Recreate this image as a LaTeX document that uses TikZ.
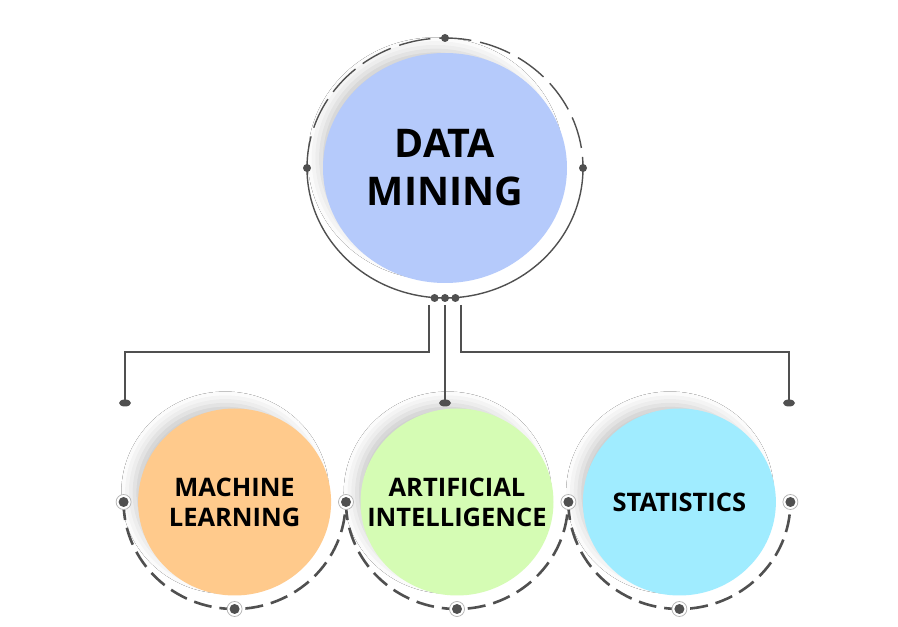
\documentclass[tikz,border=0pt]{standalone}
\usepackage{fontspec}
\setmainfont{Open Sans}
\usetikzlibrary{shapes.geometric, positioning, calc, shadows.blur}
\definecolor{dmblue}{RGB}{181,202,251}
\definecolor{mlorange}{RGB}{255,202,140}
\definecolor{aigreen}{RGB}{213,252,180}
\definecolor{stcyan}{RGB}{160,236,255}
\definecolor{wiregray}{RGB}{80,80,80}
\tikzset{
  % Coloured disc (parameterized by color)
  bubble/.style={
    ellipse, fill=#1, draw=none, inner sep=0pt,
    blur shadow={shadow xshift=-10pt, shadow yshift=10pt, shadow scale=0.94,
    shadow blur radius=14pt, shadow opacity=22}
  },
  bigtitle/.style={align=center, text=black, font=\bfseries\fontsize{39.5}{48}\selectfont},
  title/.style={align=center, text=black, font=\bfseries\fontsize{25.5}{30}\selectfont},
  ringtop/.style={wiregray, line width=1.4pt, dash pattern=on 32pt off 9pt},
  ringbase/.style={wiregray, line width=1.4pt},
  arcdash/.style={wiregray, line width=2.6pt, dash pattern=on 18pt off 8pt},
  wire/.style={wiregray, line width=1.6pt},
  knob/.style={circle, fill=wiregray, inner sep=0pt, minimum size=8pt},
  knobring/.style={circle, draw=gray!60, line width=0.7pt, fill=white, inner sep=0pt,
    minimum size=15pt, path picture={\fill[wiregray] (path picture bounding box.center) circle (5pt);}},
  pill/.style={ellipse, fill=wiregray, inner sep=0pt, minimum width=12pt, minimum height=7pt}
}
\begin{document}
\begin{tikzpicture}[x=1pt, y=1pt]
  \path[use as bounding box, fill=white] (0,0) rectangle (898,627);

  % Top node and its ring
  \node[bubble=dmblue, minimum width=244pt, minimum height=230pt] (dm) at (445,459) {};
  \node[bigtitle] (dmt) at (dm.center) {DATA\\MINING};
  \draw[ringtop] ([shift={(180:138 and 130)}]dm.center) arc[start angle=180, end angle=0, x radius=138, y radius=130];
  \draw[ringbase] ([shift={(0:138 and 130)}]dm.center) arc[start angle=0, end angle=-180, x radius=138, y radius=130];
  \node[knob] (dmw) at ([shift={(180:138 and 130)}]dm.center) {};
  \node[knob] (dme) at ([shift={(0:138 and 130)}]dm.center) {};
  \node[knob] (dmn) at ([shift={(90:138 and 130)}]dm.center) {};
  \node[knob] (hub) at ([shift={(270:138 and 130)}]dm.center) {};
  \node[knob, left=2pt of hub] (hubl) {};
  \node[knob, right=2pt of hub] (hubr) {};

  % Bottom row
  \node[bubble=aigreen, minimum width=193pt, minimum height=187pt] (ai) at (457,125) {};
  \node[bubble=mlorange, minimum width=193pt, minimum height=187pt, left=29pt of ai] (ml) {};
  \node[bubble=stcyan, minimum width=193pt, minimum height=187pt, right=29pt of ai] (st) {};
  \node[title] (mlt) at (ml.center) {MACHINE\\LEARNING};
  \node[title] (ait) at (ai.center) {ARTIFICIAL\\INTELLIGENCE};
  \node[title] (stt) at (st.center) {STATISTICS};

  % Dashed half rings
  \foreach \b in {ml, ai, st} {
    \draw[arcdash] ([shift={(180:111 and 107)}]\b.center) arc[start angle=180, end angle=360, x radius=111, y radius=107];
  }
  \foreach \b in {ml, ai, st} {
    \node[knobring] (\b-w) at ([shift={(180:111 and 107)}]\b.center) {};
    \node[knobring] (\b-s) at ([shift={(270:111 and 107)}]\b.center) {};
  }
  \node[knobring] (st-e) at ([shift={(0:111 and 107)}]st.center) {};

  % Branch ends
  \node[pill] (endl) at (125,224) {};
  \node[pill] (endm) at (445,224) {};
  \node[pill] (endr) at (789,224) {};

  % Branches
  \draw[wire] ([xshift=-16pt, yshift=-7pt]hub.center) -- ++(0,-47) -| (endl.center);
  \draw[wire] ([yshift=-7pt]hub.center) -- (endm.center);
  \draw[wire] ([xshift=16pt, yshift=-7pt]hub.center) -- ++(0,-47) -| (endr.center);
\end{tikzpicture}
\end{document}
